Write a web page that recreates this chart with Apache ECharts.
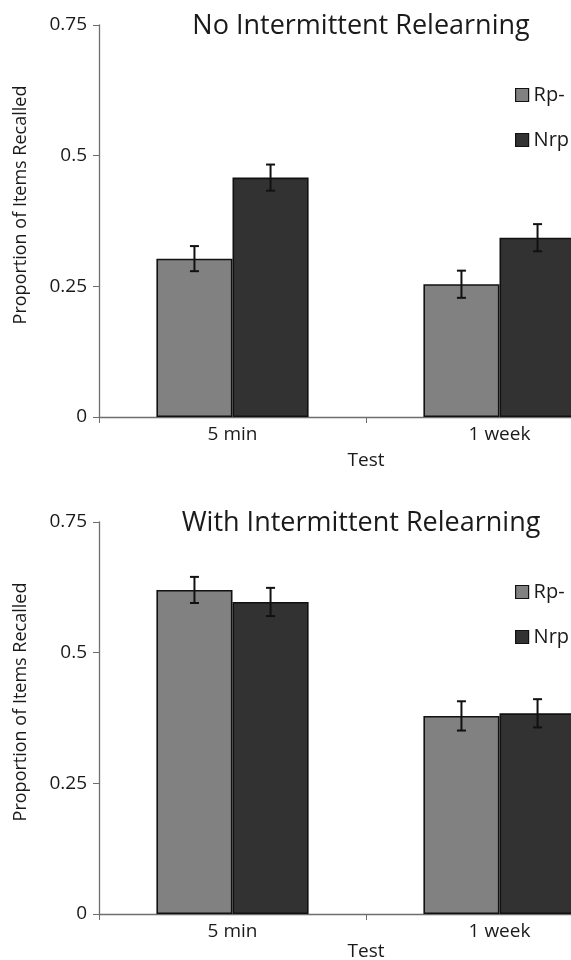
<!DOCTYPE html>
<html><head><meta charset="utf-8">
<script src="https://cdn.jsdelivr.net/npm/echarts@6/dist/echarts.min.js"></script>
<style>html,body{margin:0;padding:0;background:#fff}#c{width:571px;height:960px}</style>
</head><body><div id="c"></div>
<script>
var categories = ['5 min', '1 week'];
var seriesNames = ['Rp-', 'Nrp'];
var titles = ['No Intermittent Relearning', 'With Intermittent Relearning'];
var yAxisName = 'Proportion of Items Recalled';
var xAxisName = 'Test';
// top chart (No Intermittent Relearning)
var noRelearnRp = [0.303, 0.254];
var noRelearnNrp = [0.458, 0.343];
var noRelearnRpErr = [0.024, 0.026];
var noRelearnNrpErr = [0.025, 0.026];
// bottom chart (With Intermittent Relearning)
var withRelearnRp = [0.620, 0.379];
var withRelearnNrp = [0.597, 0.384];
var withRelearnRpErr = [0.025, 0.028];
var withRelearnNrpErr = [0.027, 0.027];
var yTicks = [0, 0.25, 0.5, 0.75];

var colors = ['#818181', '#323232'];
var gap = 0.43;
var font = 'Open Sans';
var tops = [25, 522];
var grids = [];
for (var k = 0; k < 2; k++) grids.push({left: 99, top: tops[k], height: 392, width: 534, outerBoundsMode: 'none', containLabel: false});

function errData(rp, nrp, rpE, nrpE) {
  var d = [];
  for (var i = 0; i < categories.length; i++) {
    d.push([i, rp[i], rpE[i], 0]);
    d.push([i, nrp[i], nrpE[i], 1]);
  }
  return d;
}
function renderErr(params, api) {
  var ci = api.value(0), v = api.value(1), e = api.value(2), s = api.value(3);
  var band = api.size([1, 0])[0];
  var bw = band * (1 - gap) / 2;
  var c = api.coord([ci, v]);
  var x = c[0] + (s === 0 ? -bw / 2 : bw / 2);
  var yt = api.coord([ci, v + e])[1];
  var yb = api.coord([ci, v - e])[1];
  var cap = 4.5;
  var st = {stroke: '#111', lineWidth: 2};
  return {type: 'group', children: [
    {type: 'line', shape: {x1: x, y1: yt, x2: x, y2: yb}, style: st},
    {type: 'line', shape: {x1: x - cap, y1: yt, x2: x + cap, y2: yt}, style: st},
    {type: 'line', shape: {x1: x - cap, y1: yb, x2: x + cap, y2: yb}, style: st}
  ]};
}

var xAxes = [], yAxes = [], series = [], titleOpts = [], legends = [], graphics = [];
var datasets = [[noRelearnRp, noRelearnNrp, noRelearnRpErr, noRelearnNrpErr], [withRelearnRp, withRelearnNrp, withRelearnRpErr, withRelearnNrpErr]];
var nameGaps = [34, 26];
for (var g = 0; g < 2; g++) {
  xAxes.push({type: 'category', gridIndex: g, data: categories,
    name: xAxisName, nameLocation: 'middle', nameGap: nameGaps[g],
    nameTextStyle: {fontFamily: font, fontSize: 19, color: '#1a1a1a'},
    axisLine: {lineStyle: {color: '#6e6e6e', width: 1.3}},
    axisTick: {show: true, length: 6, lineStyle: {color: '#6e6e6e'}},
    axisLabel: {fontFamily: font, fontSize: 19, color: '#1a1a1a', margin: 8}
  });
  yAxes.push({type: 'value', gridIndex: g, min: yTicks[0], max: yTicks[yTicks.length - 1], interval: 0.25,
    axisLine: {show: true, lineStyle: {color: '#6e6e6e', width: 1.3}},
    axisTick: {show: true, length: 6, lineStyle: {color: '#6e6e6e'}},
    splitLine: {show: false},
    axisLabel: {fontFamily: font, fontSize: 19, color: '#1a1a1a', margin: 12}
  });
  var d = datasets[g];
  for (var s = 0; s < 2; s++) {
    series.push({type: 'bar', name: seriesNames[s], xAxisIndex: g, yAxisIndex: g, data: d[s],
      barGap: '0%', barCategoryGap: (gap * 100) + '%',
      itemStyle: {color: colors[s], borderColor: '#111', borderWidth: 1.6}});
  }
  series.push({type: 'custom', xAxisIndex: g, yAxisIndex: g, data: errData(d[0], d[1], d[2], d[3]), renderItem: renderErr, z: 10, silent: true});
  titleOpts.push({text: titles[g], left: 356, top: tops[g] - 17, textAlign: 'center',
    textStyle: {fontFamily: font, fontSize: 27, fontWeight: 'normal', color: '#1a1a1a'}});
  legends.push({data: seriesNames, orient: 'vertical', left: 510, top: g === 0 ? 80 : 577, itemGap: 25,
    itemWidth: 13, itemHeight: 13, icon: 'rect',
    itemStyle: {borderColor: '#111', borderWidth: 1.2},
    textStyle: {fontFamily: font, fontSize: 20, color: '#1a1a1a'}});
  graphics.push({type: 'text', x: 21, y: tops[g] + 180, rotation: Math.PI / 2,
    style: {text: yAxisName, font: '18px "Open Sans"', fill: '#1a1a1a', align: 'center', verticalAlign: 'middle'}});
}

var chart = echarts.init(document.getElementById('c'));
chart.setOption({
  animation: false,
  title: titleOpts,
  legend: legends,
  grid: grids,
  xAxis: xAxes,
  yAxis: yAxes,
  graphic: graphics,
  series: series
});
</script></body></html>
